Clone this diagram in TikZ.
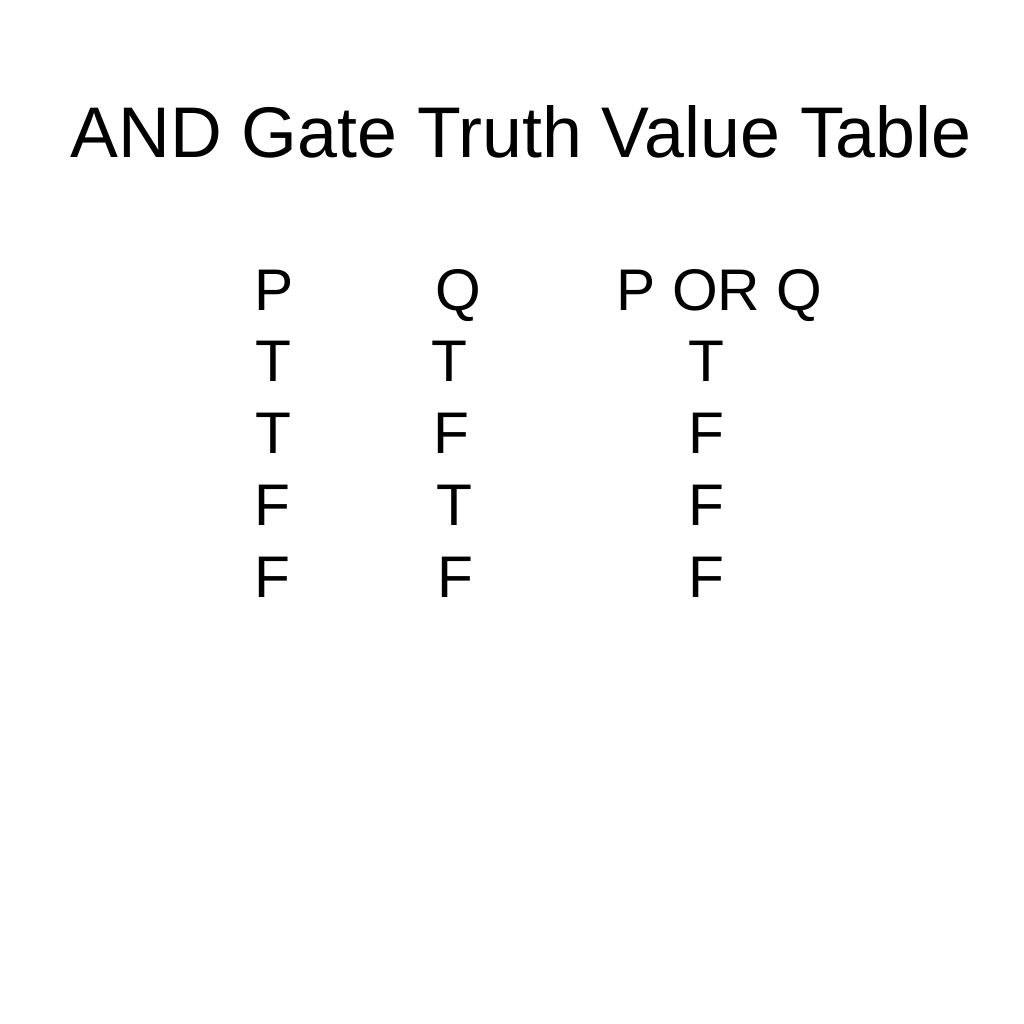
\documentclass[tikz,border=0pt]{standalone}
\usepackage{fontspec}
\setmainfont{Liberation Sans}
\usepackage{tikz}
\usetikzlibrary{positioning}
\tikzset{
    heading/.style={
    inner sep=0pt,anchor=base,font=\fontsize{20.4pt}{24pt}\selectfont
    },
    cell/.style={
    inner sep=0pt,anchor=base west,font=\fontsize{16.7pt}{20pt}\selectfont
    },
    ccell/.style={
    inner sep=0pt,anchor=base,font=\fontsize{16.7pt}{20pt}\selectfont
    },
}
\begin{document}
\begin{tikzpicture}[x=0.01cm, y=-0.01cm]
   \useasboundingbox[fill=white] (0,0) rectangle (1024,1024);
   \node[heading] (title) at (521,157) {AND Gate Truth Value Table};

   \node[cell]  (hP)  at (254,310) {P};
   \node[cell]  (hQ)  at (435,310) {Q};
   \node[cell]  (hPQ) at (616,310) {P OR Q};

   \node[cell]  (p1) at (255,381) {T};
   \node[cell]  (p2) at (255,453) {T};
   \node[cell]  (p3) at (254,525) {F};
   \node[cell]  (p4) at (254,597) {F};

   \node[cell]  (q1) at (431,381) {T};
   \node[cell]  (q2) at (433,453) {F};
   \node[cell]  (q3) at (436,525) {T};
   \node[cell]  (q4) at (437,597) {F};

   \node[ccell] (r1) at (706,381) {T};
   \node[ccell] (r2) at (706,453) {F};
   \node[ccell] (r3) at (706,525) {F};
   \node[ccell] (r4) at (706,597) {F};
\end{tikzpicture}
\end{document}
